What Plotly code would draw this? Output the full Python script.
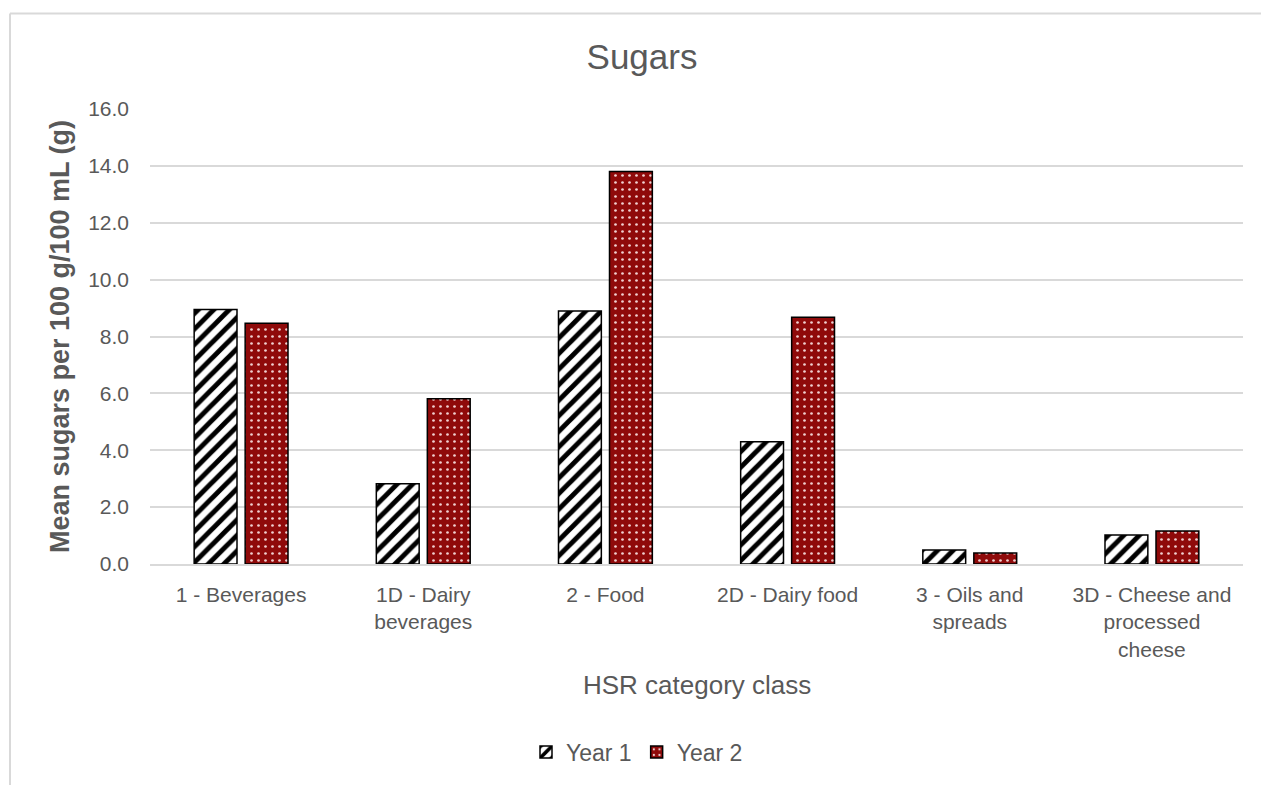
import plotly.graph_objects as go

# Mean sugars per 100 g/100 mL by HSR category class
categories = [
    "1 - Beverages",
    "1D - Dairy<br>beverages",
    "2 - Food",
    "2D - Dairy food",
    "3 - Oils and<br>spreads",
    "3D - Cheese and<br>processed<br>cheese",
]
year1 = [8.95, 2.82, 8.90, 4.30, 0.49, 1.02]
year2 = [8.47, 5.81, 13.80, 8.68, 0.39, 1.16]
y_ticks = [0, 2, 4, 6, 8, 10, 12, 14, 16]

TEXT = "#595959"
GRID = "#d9d9d9"
FONT = "Liberation Sans, Arial, sans-serif"

fig = go.Figure()
fig.add_trace(go.Bar(
    name="Year 1", x=categories, y=year1,
    marker=dict(
        color="white",
        line=dict(color="black", width=1.5),
        pattern=dict(shape="/", fgcolor="black", bgcolor="white",
                     size=11, solidity=0.45, fillmode="replace"),
    ),
))
fig.add_trace(go.Bar(
    name="Year 2", x=categories, y=year2,
    marker=dict(
        color="#8f0a0a",
        line=dict(color="black", width=1.5),
        pattern=dict(shape=".", fgcolor="#f0d0d0", bgcolor="#8f0a0a",
                     size=7, solidity=0.12, fillmode="replace"),
    ),
))

W, H = 1261, 785
L, R, T, B = 150, 18, 109, 219
pw, ph = W - L - R, H - T - B

def px_x(p):
    return (p - L) / pw

def px_y(p):
    return 1 - (p - T) / ph

fig.update_layout(
    width=W, height=H,
    margin=dict(l=L, r=R, t=T, b=B),
    paper_bgcolor="white", plot_bgcolor="white",
    font=dict(family=FONT, color=TEXT, size=21),
    barmode="group", bargap=0.44, bargroupgap=0.16,
    title=dict(text="Sugars", x=642 / W, xanchor="center",
               y=1 - 57 / H, yanchor="middle", yref="container",
               font=dict(size=35, color=TEXT, family=FONT)),
    showlegend=True,
    legend=dict(orientation="h", x=px_x(637), xanchor="center",
                y=px_y(755), yanchor="middle",
                font=dict(size=23, color=TEXT, family=FONT),
                traceorder="normal", itemwidth=30, tracegroupgap=0),
    xaxis=dict(showgrid=False, showline=True, linecolor=GRID, linewidth=1.5,
               ticks="", tickfont=dict(size=21, color=TEXT),
               tickangle=0, automargin=False, ticklabelstandoff=11),
    yaxis=dict(range=[0, 16], tickvals=y_ticks, tickformat=".1f",
               showgrid=True, gridcolor=GRID, gridwidth=1.5,
               zeroline=False, showline=False, ticks="",
               tickfont=dict(size=21, color=TEXT), ticklabelstandoff=20,
               automargin=False,
               title=dict(text="<b>Mean sugars per 100 g/100 mL (g)</b>",
                          font=dict(size=27, color=TEXT), standoff=10)),
    annotations=[
        dict(text="HSR category class", xref="paper", yref="paper",
             x=0.5, y=px_y(688), xanchor="center", yanchor="middle",
             showarrow=False, font=dict(size=26, color=TEXT, family=FONT)),
    ],
    shapes=[
        dict(type="line", xref="paper", yref="paper",
             x0=px_x(10), x1=px_x(10), y0=px_y(800), y1=px_y(13),
             line=dict(color=GRID, width=2)),
        dict(type="line", xref="paper", yref="paper",
             x0=px_x(10), x1=px_x(1270), y0=px_y(13), y1=px_y(13),
             line=dict(color=GRID, width=2)),
    ],
)

fig.write_html("out.html")
